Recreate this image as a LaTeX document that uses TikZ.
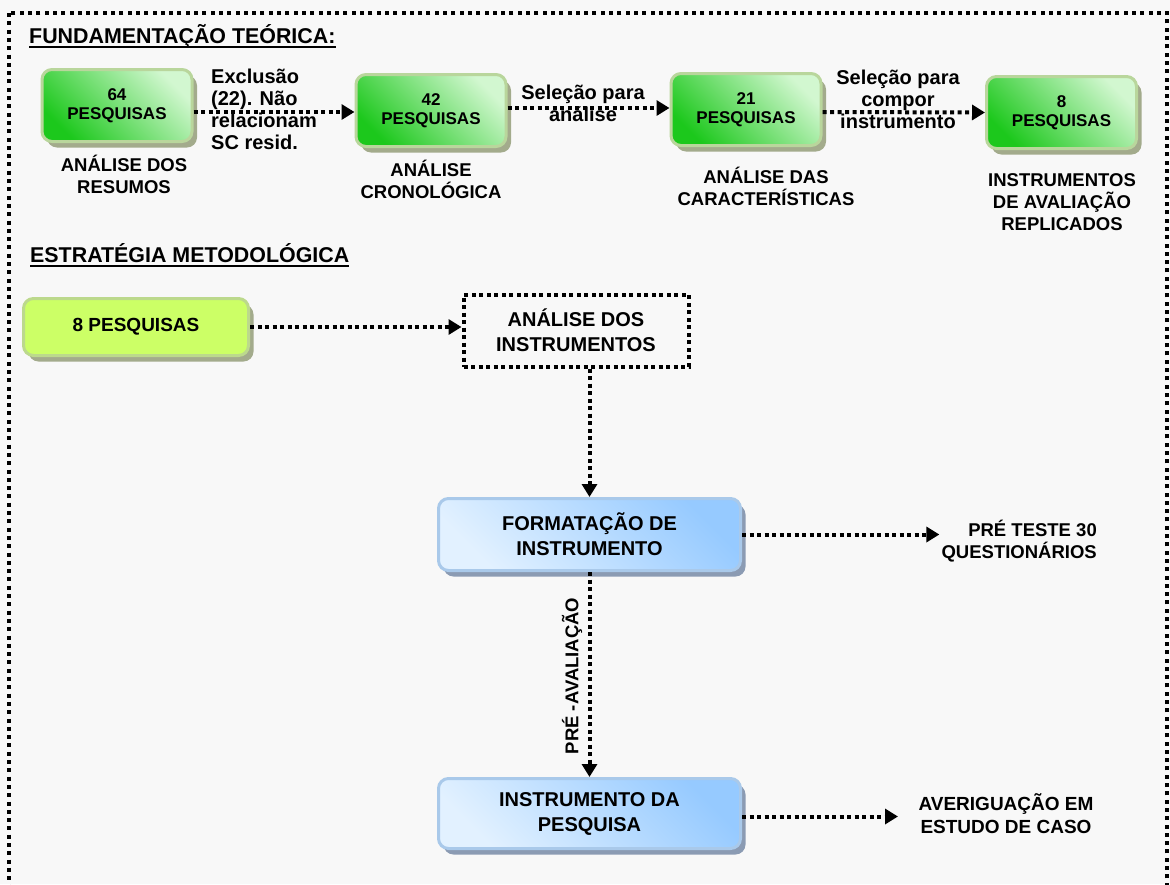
\documentclass[tikz,border=0pt]{standalone}
\usepackage{fontspec}
\setmainfont{Liberation Sans}
\usetikzlibrary{arrows.meta,shadows}
\definecolor{bgc}{HTML}{F8F8F8}
\definecolor{gtop}{HTML}{D2F7D0}
\definecolor{gbot}{HTML}{1CC81C}
\definecolor{gbord}{HTML}{B9D69C}
\definecolor{gshad}{HTML}{A3AB8C}
\definecolor{ylw}{HTML}{CCFF66}
\definecolor{ybord}{HTML}{BCD98C}
\definecolor{btop}{HTML}{96CAFF}
\definecolor{bbot}{HTML}{E2F1FF}
\definecolor{bbord}{HTML}{A9C9EA}
\definecolor{bshad}{HTML}{8B9BB3}
\begin{document}
\begin{tikzpicture}[x=1pt,y=-1pt,
  greenbox/.style={draw=gbord, line width=3pt, rounded corners=10pt,
    minimum width=150pt, minimum height=72pt,
    top color=gtop, bottom color=gbot, shading angle=-45,
    drop shadow={shadow xshift=5pt, shadow yshift=-6pt, fill=gshad, opacity=1},
    align=center, inner sep=0pt, font=\fontsize{17}{19}\selectfont\bfseries},
  limebox/.style={draw=ybord, line width=3pt, rounded corners=10pt,
    minimum width=225pt, minimum height=57pt, fill=ylw,
    drop shadow={shadow xshift=5pt, shadow yshift=-6pt, fill=gshad, opacity=1},
    align=center, inner sep=0pt, font=\fontsize{19}{25}\selectfont\bfseries},
  bluebox/.style={draw=bbord, line width=3pt, rounded corners=10pt,
    minimum width=302pt, minimum height=72pt,
    top color=btop, bottom color=bbot, shading angle=-45,
    drop shadow={shadow xshift=5pt, shadow yshift=-6pt, fill=bshad, opacity=1},
    align=center, inner sep=0pt, font=\fontsize{20}{25}\selectfont\bfseries},
  dotbox/.style={draw, line width=4pt, dash pattern=on 4pt off 3.5pt,
    minimum width=225pt, minimum height=72pt,
    align=center, inner sep=0pt, font=\fontsize{20}{25}\selectfont\bfseries},
  lbl/.style={align=center, inner sep=0pt, font=\fontsize{18.5}{22}\selectfont\bfseries},
  albl/.style={align=center, inner sep=0pt, font=\fontsize{20}{22}\selectfont\bfseries},
  heading/.style={inner sep=0pt, anchor=base west, font=\fontsize{21.4}{24}\selectfont\bfseries},
  arr/.style={line width=4pt, dash pattern=on 4pt off 3.5pt,
    -{Triangle[length=13pt,width=15pt]}},
  frame/.style={line width=4pt, dash pattern=on 4pt off 4.3pt}
]
\useasboundingbox (0,0) rectangle (1170,884);
\fill[bgc] (0,0) rectangle (1170,884);
\clip (0,0) rectangle (1170,884);
\draw[frame] (9,13) rectangle (1167,900);

% headings
\node[heading] (h1) at (29,43) {FUNDAMENTAÇÃO TEÓRICA:};
\draw[line width=2pt] ([yshift=-4pt]h1.base west) -- ([yshift=-4pt]h1.base east);
\node[heading] (h2) at (30,262) {ESTRATÉGIA METODOLÓGICA};
\draw[line width=2pt] ([yshift=-4pt]h2.base west) -- ([yshift=-4pt]h2.base east);

% upper row
\node[greenbox] (b64) at (117,105.5) {64\\PESQUISAS};
\node[greenbox] (b42) at (431,110.5) {42\\PESQUISAS};
\node[greenbox] (b21) at (746,109.5) {21\\PESQUISAS};
\node[greenbox] (b8) at (1061.5,112.5) {8\\PESQUISAS};

\draw[arr] ([yshift=-6.5pt]b64.east) -- ([yshift=-1.5pt]b42.west);
\draw[arr] ([yshift=2.5pt]b42.east) -- ([yshift=1.5pt]b21.west);
\draw[arr] ([yshift=-2.5pt]b21.east) -- (b8.west);

\node[albl, align=left, anchor=west] (l1) at (211,109) {Exclusão\\(22). Não\\relacionam\\SC resid.};
\node[albl] (l2) at (583,103) {Seleção para\\análise};
\node[albl] (l3) at (898,99) {Seleção para\\compor\\instrumento};

\node[lbl] (c1) at (124,174) {ANÁLISE DOS\\RESUMOS};
\node[lbl] (c2) at (431,179) {ANÁLISE\\CRONOLÓGICA};
\node[lbl] (c3) at (766,186) {ANÁLISE DAS\\CARACTERÍSTICAS};
\node[lbl] (c4) at (1062,202) {INSTRUMENTOS\\DE AVALIAÇÃO\\REPLICADOS};

% lower part
\node[limebox] (p8) at (136,327) {8 PESQUISAS};
\node[dotbox] (ai) at (576,330.5) {ANÁLISE DOS\\INSTRUMENTOS};
\node[bluebox] (fi) at (589.5,534.5) {FORMATAÇÃO DE\\INSTRUMENTO};
\node[bluebox, minimum height=70pt] (ip) at (589.5,813.5) {INSTRUMENTO DA\\PESQUISA};

\node[lbl, align=right, anchor=east, inner xsep=2pt] (pt) at (1099,541) {PRÉ TESTE 30\\QUESTIONÁRIOS};
\node[lbl, font=\fontsize{19}{23}\selectfont\bfseries] (av) at (1006,814) {AVERIGUAÇÃO EM\\ESTUDO DE CASO};
\coordinate (avin) at (898,817);
\node[lbl] (pa) [rotate=90] at (572,676) {PRÉ -AVALIAÇÃO};

\draw[arr] (p8.east) -- (ai.west |- p8.east);
\draw[arr] (fi.north |- ai.south) -- (fi.north);
\draw[arr] (fi.east) -- (fi.east -| pt.west);
\draw[arr] (fi.south) -- (ip.north);
\draw[arr] ([yshift=-3pt]ip.east) -- ([yshift=-3pt]ip.east -| avin);
\end{tikzpicture}
\end{document}
